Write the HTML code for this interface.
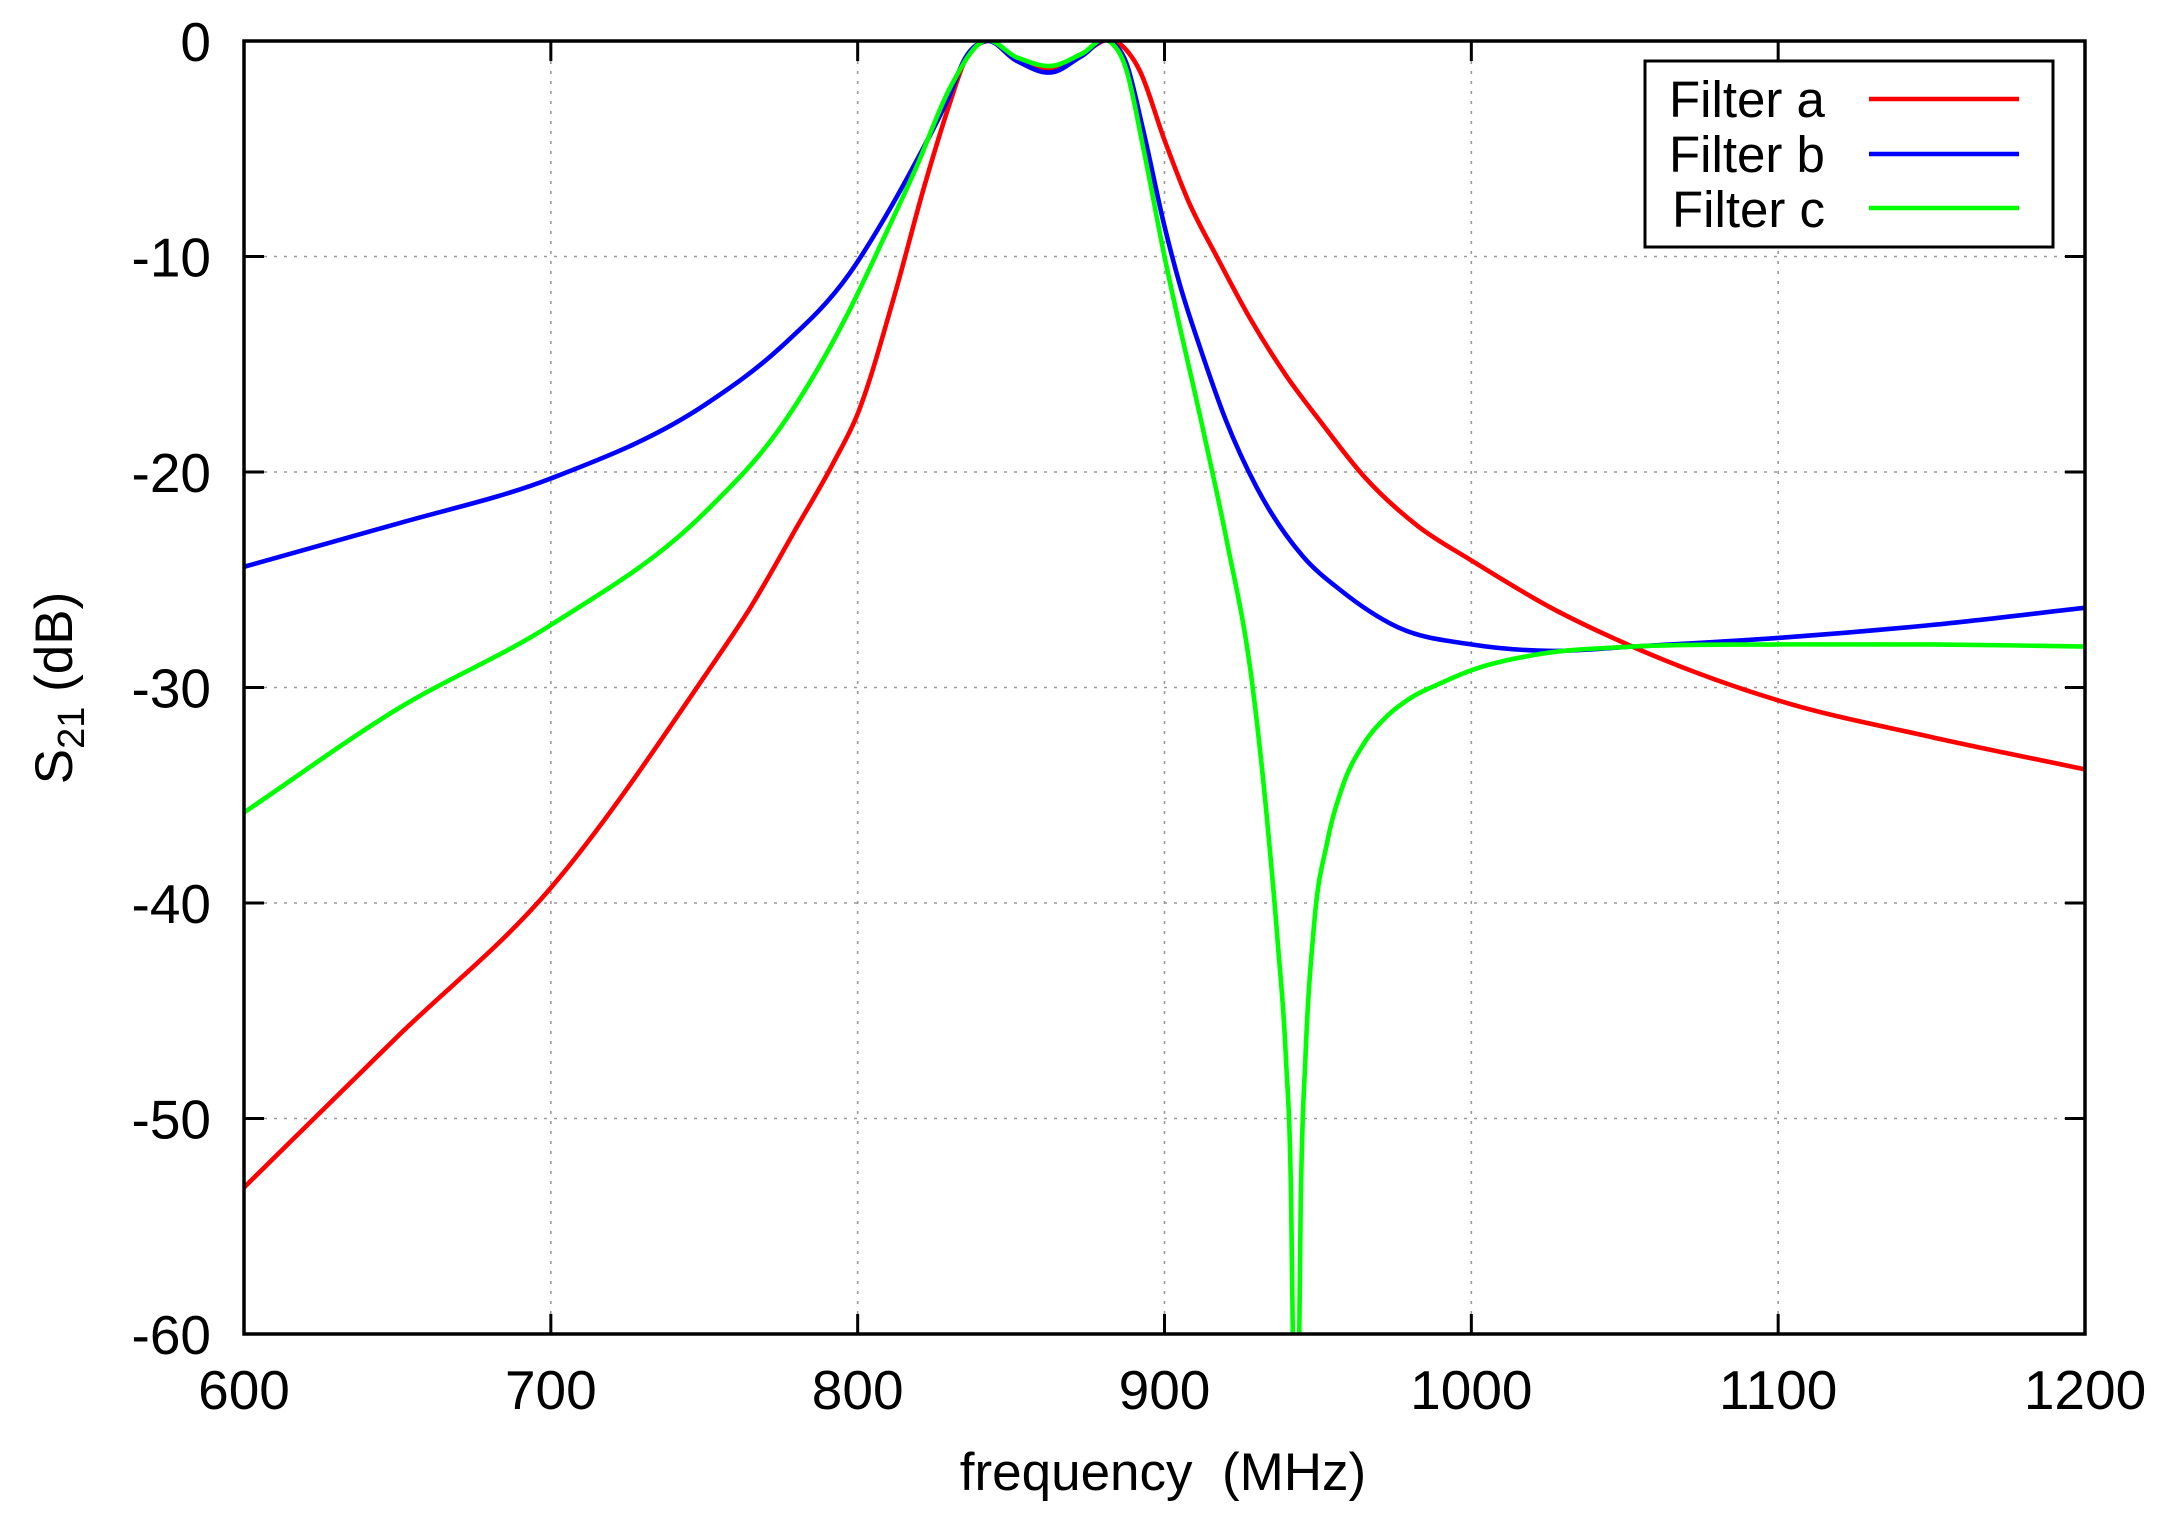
<!DOCTYPE html>
<html><head><meta charset="utf-8"><style>
html,body{margin:0;padding:0;background:#fff}
svg{display:block}
text{font-family:"Liberation Sans",Arial,sans-serif;fill:#000}
</style></head><body>
<svg id="s" width="2171" height="1522" xmlns="http://www.w3.org/2000/svg">
<defs><clipPath id="cp"><rect x="244" y="41" width="1841" height="1293"/></clipPath></defs>
<g id="grid" stroke="#999" stroke-width="1.6" stroke-dasharray="3,7"></g>
<g id="ticks" stroke="#000" stroke-width="3"></g>
<g id="labels" font-size="55"></g>
<g id="curves" clip-path="url(#cp)" fill="none" stroke-width="4.6" stroke-linejoin="round"></g>
<rect x="244" y="41" width="1841" height="1293" fill="none" stroke="#000" stroke-width="3.5"/>
<rect x="1645" y="61" width="408" height="186" fill="#fff" stroke="#000" stroke-width="3"/>
<text x="1669" y="117" font-size="51">Filter a</text>
<text x="1669" y="172" font-size="51">Filter b</text>
<text x="1672" y="227" font-size="51">Filter c</text>
<line x1="1869" y1="99" x2="2019" y2="99" stroke="#f00" stroke-width="4.6"/>
<line x1="1869" y1="154" x2="2019" y2="154" stroke="#00f" stroke-width="4.6"/>
<line x1="1869" y1="208" x2="2019" y2="208" stroke="#0f0" stroke-width="4.6"/>
<text x="1163" y="1490" font-size="53" text-anchor="middle" xml:space="preserve">frequency  (MHz)</text>
<text transform="translate(72,688) rotate(-90)" font-size="53" text-anchor="middle">S<tspan font-size="38" dy="12">21</tspan><tspan dy="-12"> (dB)</tspan></text>
</svg>
<script>
var NS="http://www.w3.org/2000/svg";
function X(f){return 244+(f-600)*1841/600}
function Y(d){return 41-d*1293/60}
function el(p,t,a,txt){var e=document.createElementNS(NS,t);for(var k in a)e.setAttribute(k,a[k]);if(txt!==undefined)e.textContent=txt;document.getElementById(p).appendChild(e);return e}
for(var f=700;f<=1100;f+=100){el("grid","line",{x1:X(f),y1:41,x2:X(f),y2:1334});}
for(var d=-10;d>=-50;d-=10){el("grid","line",{x1:244,y1:Y(d),x2:2085,y2:Y(d)});}
for(var f=600;f<=1200;f+=100){
 el("ticks","line",{x1:X(f),y1:1334,x2:X(f),y2:1314});
 el("ticks","line",{x1:X(f),y1:41,x2:X(f),y2:61});
 el("labels","text",{x:X(f),y:1409,"text-anchor":"middle"},""+f);
}
for(var d=0;d>=-60;d-=10){
 el("ticks","line",{x1:244,y1:Y(d),x2:264,y2:Y(d)});
 el("ticks","line",{x1:2085,y1:Y(d),x2:2065,y2:Y(d)});
 el("labels","text",{x:211,y:Y(d)+20,"text-anchor":"end"},""+d);
}
var red=[[600,-53.2],[650,-46.2],[700,-39.3],[750,-29.5],[765,-26.3],[780,-22.6],[792,-19.6],[800,-17.3],[812,-11.8],[822,-6.6],[830,-2.9],[835,-0.9],[842,0],[851.6,-0.9],[863.6,-1.3],[873,-0.6],[884,0],[892,-1.4],[900,-4.6],[908,-7.5],[917,-10],[928,-12.9],[940,-15.6],[950.5,-17.6],[965,-20.2],[982.5,-22.5],[1000,-24.1],[1026,-26.3],[1052.5,-28.1],[1100,-30.6],[1150,-32.3],[1200,-33.8]];
var blue=[[600,-24.4],[650,-22.4],[700,-20.3],[750,-16.9],[775,-14.2],[797.3,-10.8],[808,-8.4],[819,-5.6],[830,-2.5],[835,-0.8],[842,0],[851.6,-0.9],[863.6,-1.45],[873,-0.7],[882,0],[887.5,-1],[893,-4.1],[900,-8.6],[905,-11.3],[912,-14.4],[920,-17.6],[930,-20.7],[945,-23.9],[957.5,-25.5],[976,-27.2],[1000,-28],[1026,-28.3],[1052.5,-28.1],[1100,-27.7],[1150,-27.1],[1200,-26.3]];
var green=[[600,-35.8],[650,-31],[700,-27.1],[750,-21.9],[775,-17.9],[797.3,-12.5],[808,-9.3],[819,-5.9],[830,-2.2],[841,0],[852,-0.77],[863.6,-1.15],[873,-0.6],[882,0],[887.5,-1.3],[893,-4.9],[900,-10],[912.5,-18],[920,-23],[928.75,-30],[934,-37],[937,-42],[939.5,-47],[941.3,-54],[942.4,-66],[943.4,-66],[944.4,-54],[946,-47],[948.75,-41],[953,-37.2],[958,-34.6],[965,-32.6],[972,-31.4],[980,-30.5],[990,-29.8],[1000,-29.2],[1020,-28.5],[1052.5,-28.1],[1100,-28.0],[1150,-28.0],[1200,-28.1]];
function path(pts){var n=pts.length,m=[];
 for(var i=0;i<n;i++){
  if(i==0){m[i]=(pts[1][1]-pts[0][1])/(pts[1][0]-pts[0][0]);}
  else if(i==n-1){m[i]=(pts[i][1]-pts[i-1][1])/(pts[i][0]-pts[i-1][0]);}
  else{var h0=pts[i][0]-pts[i-1][0],h1=pts[i+1][0]-pts[i][0];
   var d0=(pts[i][1]-pts[i-1][1])/h0,d1=(pts[i+1][1]-pts[i][1])/h1;
   m[i]=(d0*h1+d1*h0)/(h0+h1);}
 }
 var s="M"+X(pts[0][0]).toFixed(1)+","+Y(pts[0][1]).toFixed(1);
 for(var i=0;i<n-1;i++){var h=pts[i+1][0]-pts[i][0];
  var c1x=pts[i][0]+h/3,c1y=pts[i][1]+m[i]*h/3,c2x=pts[i+1][0]-h/3,c2y=pts[i+1][1]-m[i+1]*h/3;
  s+="C"+X(c1x).toFixed(1)+","+Y(c1y).toFixed(1)+" "+X(c2x).toFixed(1)+","+Y(c2y).toFixed(1)+" "+X(pts[i+1][0]).toFixed(1)+","+Y(pts[i+1][1]).toFixed(1);}
 return s;}
el("curves","path",{d:path(red),stroke:"#f00"});
el("curves","path",{d:path(blue),stroke:"#00f"});
el("curves","path",{d:path(green),stroke:"#0f0"});
</script>
</body></html>
